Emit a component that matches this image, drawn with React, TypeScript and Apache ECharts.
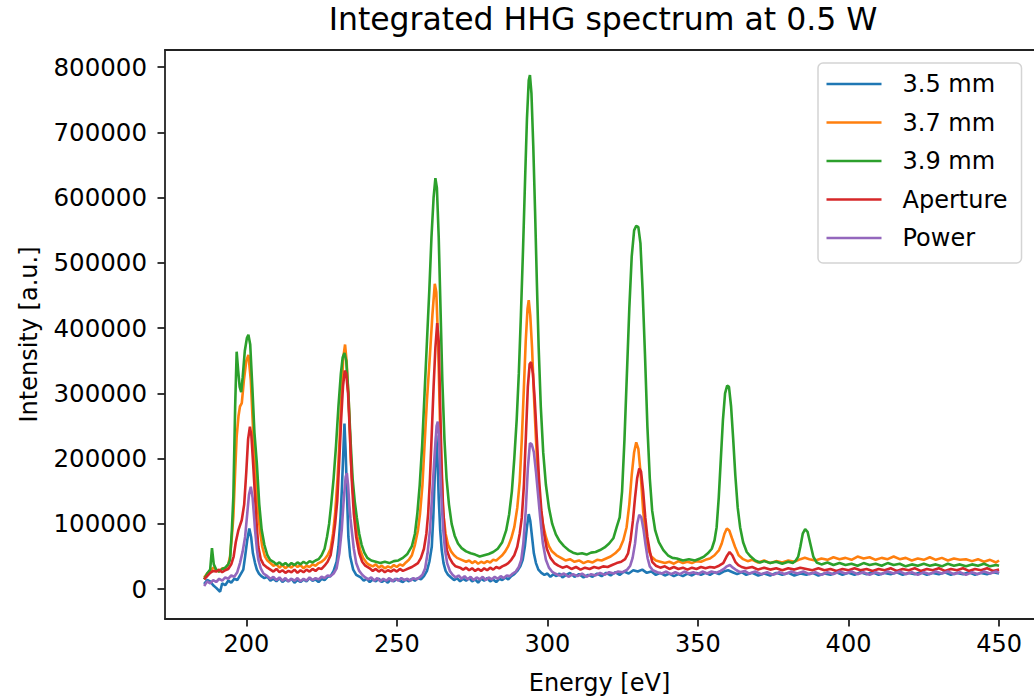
import React, { useEffect, useRef } from "react";
import * as echarts from "echarts";

const TITLE = "Integrated HHG spectrum at 0.5 W";
const X_NAME = "Energy [eV]";
const Y_NAME = "Intensity [a.u.]";
const X_TICKS = [200, 250, 300, 350, 400, 450];
const Y_TICKS = [0, 100000, 200000, 300000, 400000, 500000, 600000, 700000, 800000];
const SERIES_NAMES = ["3.5 mm", "3.7 mm", "3.9 mm", "Aperture", "Power"];
const COLORS = ["#1f77b4", "#ff7f0e", "#2ca02c", "#d62728", "#9467bd"];

const s35: [number, number][] = [
  [186,8000],[187,14000],[188,12000],[189,6000],[190,2000],[191.3,-4000],[192,9000],[193,6000],[194,13000],[195,10000],[196,16000],[197,14000],[198,22000],[199,30000],[199.6,50000],[200.3,75000],[201,93000],[201.6,80000],[202.2,55000],[202.9,40000],[203.5,30000],[204.2,24000],[205,20000],[206,17000],[207,19000],[208,13000],[209,16000],[210,12000],[211,17000],[212,11000],[213,15000],[214,12000],[215,16000],[216,10000],[217,14000],[218,11000],[219,15000],[220,12000],[221,17000],[222,13000],[223,15000],[224,11000],[225,16000],[226,14000],[227,19000],[228,20000],[229,28000],[230,42000],[230.6,65000],[231.3,110000],[231.8,160000],[232.3,220000],[232.6,254000],[233,210000],[233.4,150000],[233.9,80000],[234.5,50000],[235.5,30000],[236.5,22000],[238,18000],[239,13000],[240,16000],[241,11000],[242,15000],[243,12000],[244,16000],[245,11000],[246,14000],[247,10000],[248,15000],[249,12000],[250,16000],[251,13000],[252,11000],[253,15000],[254,12000],[255,16000],[256,13000],[257,17000],[258,15000],[259,20000],[260,28000],[260.8,42000],[261.6,65000],[262.1,110000],[262.6,175000],[263.1,236000],[263.5,200000],[263.9,140000],[264.4,90000],[264.9,60000],[265.5,40000],[266.2,28000],[267,22000],[268,18000],[269,14000],[270,17000],[271,12000],[272,16000],[273,13000],[274,17000],[275,12000],[276,15000],[277,10000],[278,16000],[279,13000],[280,17000],[281,12000],[282,15000],[283,11000],[284,16000],[285,14000],[286,18000],[287,15000],[288,20000],[289,23000],[290,28000],[291,35000],[291.8,45000],[292.5,65000],[293.2,95000],[293.8,115000],[294.3,105000],[294.9,80000],[295.5,55000],[296.2,40000],[297,30000],[298,25000],[299,22000],[300,24000],[301,19000],[302,23000],[303,20000],[304,24000],[305,18000],
  [306,21000],[307.5,25000],[309,19000],[310.5,23000],[312,18000],[313.5,22000],[315,19000],[316.5,24000],[318,20000],[319.5,25000],[321,21000],[322.5,26000],[324,22000],[325.5,27000],[327,24000],[328.5,29000],[330,27000],[331.5,30000],[333,25000],[334.5,27000],[336,22000],[337.5,25000],[339,21000],[340.5,24000],[342,20000],[343.5,23000],[345,20000],[346.5,24000],[348,21000],[349.5,25000],[351,22000],[352.5,25000],[354,22000],[355.5,26000],[357,23000],[358.5,27000],[360,29000],[361.5,26000],[363,23000],[364.5,26000],[366,22000],[368,25000],[370,21000],[372,24000],[374,21000],[376,25000],[378,22000],[380,25000],[382,21000],[384,24000],[386,22000],[388,25000],[390,21000],[392,24000],[394,22000],[396,26000],[398,22000],[400,25000],[402,22000],[404,26000],[406,23000],[408,26000],[410,22000],[412,25000],[414,23000],[416,26000],[418,22000],[420,25000],[422,23000],[424,26000],[426,22000],[428,25000],[430,23000],[432,26000],[434,22000],[436,25000],[438,23000],[440,26000],[442,22000],[444,25000],[446,23000],[448,26000],[450,24000]
];

const s37: [number, number][] = [
  [186,18000],[187,24000],[188,28000],[189,33000],[190,30000],[191,27000],[192,32000],[193,30000],[194,38000],[194.6,50000],[195.2,80000],[195.7,111000],[196.3,180000],[196.8,234000],[197.4,265000],[197.9,280000],[198.5,285000],[199.2,320000],[200,350000],[200.7,359000],[201.5,320000],[202.2,250000],[202.9,193000],[203.7,130000],[204.5,91000],[205.3,65000],[206.2,50000],[207,44000],[208,40000],[209,36000],[210,38000],[211,33000],[212,37000],[213,32000],[214,36000],[215,33000],[216,38000],[217,34000],[218,37000],[219,32000],[220,36000],[221,34000],[222,38000],[223,36000],[224,40000],[225,42000],[226,46000],[227,52000],[228,62000],[228.8,85000],[229.5,116000],[230.3,170000],[231,230000],[231.6,300000],[232.2,355000],[232.8,375000],[233.3,350000],[234,290000],[234.7,200000],[235.4,150000],[236.1,116000],[236.9,80000],[237.8,60000],[238.8,48000],[240,40000],[241,37000],[242,35000],[243,38000],[244,33000],[245,36000],[246,32000],[247,35000],[248,33000],[249,37000],[250,34000],[251,38000],[252,36000],[253,41000],[254,45000],[255,52000],[256,68000],[257,90000],[257.7,116000],[258.5,160000],[259.3,230000],[260,290000],[261,360000],[261.8,420000],[262.6,468000],[263.1,455000],[263.7,380000],[264.3,260000],[264.9,170000],[265.4,116000],[266.2,85000],[267,68000],[268,58000],[269,52000],[270,48000],[271.5,45000],[273,42000],[274,44000],[275,40000],[276,43000],[277,39000],[278,42000],[279,40000],[280,43000],[281,41000],[282,45000],[283,44000],[284,48000],[285,52000],[286,58000],[287,66000],[288,78000],[289,95000],[290,125000],[290.8,165000],[291.5,230000],[292.2,310000],[292.8,380000],[293.4,430000],[293.8,443000],[294.3,420000],[294.9,370000],[295.5,300000],[296.2,230000],[296.9,170000],[297.6,130000],[298.5,100000],[299.5,80000],[300.5,66000],[301.5,58000],[303,52000],[304.5,48000],[306,44000],[307.5,46000],[309,42000],[310.5,44000],[312,40000],[313.5,43000],[315,41000],[316.5,45000],[318,44000],[319.5,47000],[321,50000],[322.5,55000],[324,62000],[325.2,75000],[326.3,95000],[327.2,130000],[328,175000],[328.8,210000],[329.5,225000],[330.2,215000],[331,175000],[331.8,120000],[332.6,86000],[333.4,62000],[334.5,50000],[336,44000],[337.5,42000],[339,40000],[340.5,42000],[342,39000],[343.5,43000],[345,40000],[346.5,42000],[348,40000],[349.5,43000],[351,42000],[352.5,45000],[354,47000],[355.5,52000],[357,60000],[357.9,70000],[358.8,85000],[359.6,93000],[360.4,90000],[361.3,78000],[362.3,65000],[363.5,52000],[365,46000],[366.5,43000],[368,45000],[370,41000],[372,44000],[374,40000],[376,43000],[378,41000],[380,44000],[382,42000],[384,46000],[385.5,48000],[387,46000],[389,44000],[391,47000],[393,45000],[395,49000],[397,46000],[399,48000],[401,45000],[403,50000],[405,47000],[407,49000],[409,45000],[411,48000],[413,46000],[415,50000],[417,46000],[419,48000],[421,44000],[423,47000],[425,45000],[427,49000],[429,45000],[431,48000],[433,44000],[435,47000],[437,45000],[439,46000],[441,43000],[443,46000],[445,42000],[447,45000],[449,41000],[450,44000]
];

const s39: [number, number][] = [
  [186,15000],[187,24000],[188,30000],[188.6,63000],[189.2,38000],[190,30000],[191,27000],[192,31000],[193,33000],[194,38000],[194.6,45000],[195.2,90000],[195.7,142000],[196.3,280000],[196.8,364000],[197.3,335000],[197.8,310000],[198.3,302000],[198.8,325000],[199.5,365000],[200.2,385000],[200.7,390000],[201.3,375000],[202,310000],[202.7,240000],[203.5,193000],[204.3,130000],[205.1,91000],[206,68000],[207,52000],[207.9,45000],[209,42000],[210,38000],[211,41000],[212,37000],[213,40000],[214,36000],[215,40000],[216,37000],[217,41000],[218,38000],[219,42000],[220,39000],[221,43000],[222,41000],[223,44000],[224,46000],[225,52000],[226,62000],[226.8,80000],[227.5,100000],[228.2,130000],[229,170000],[229.8,220000],[230.6,280000],[231.4,330000],[232,355000],[232.6,362000],[233.2,350000],[233.9,300000],[234.6,230000],[235.3,170000],[236,135000],[236.7,110000],[237.5,85000],[238.3,68000],[239.2,56000],[240.2,48000],[241.5,44000],[243,42000],[244.5,40000],[246,42000],[247.5,40000],[249,43000],[250.5,44000],[252,48000],[253.5,54000],[255,66000],[256,85000],[256.8,116000],[257.6,160000],[258.4,220000],[259.2,300000],[260,380000],[260.8,460000],[261.5,540000],[262.2,600000],[262.8,630000],[263.3,615000],[263.9,540000],[264.5,430000],[265.1,320000],[265.8,230000],[266.5,170000],[267.3,130000],[268.2,100000],[269.2,82000],[270.3,70000],[271.5,63000],[273,58000],[274.5,55000],[276,53000],[277.5,50000],[279,52000],[280.5,54000],[282,57000],[283.5,62000],[285,72000],[286.3,90000],[287.3,115000],[288.2,150000],[289,200000],[289.8,260000],[290.5,330000],[291.2,420000],[291.9,520000],[292.6,630000],[293.2,720000],[293.8,780000],[294.2,788000],[294.7,760000],[295.3,680000],[295.9,580000],[296.5,470000],[297.1,370000],[297.8,280000],[298.6,210000],[299.5,160000],[300.5,125000],[301.6,100000],[302.8,84000],[304,74000],[305.5,66000],[307,60000],[308.5,56000],[310,54000],[311.5,55000],[313,53000],[314.5,56000],[316,57000],[317.5,60000],[319,64000],[320.5,70000],[321.9,78000],[323,95000],[324,110000],[324.8,150000],[325.6,230000],[326.4,330000],[327.2,430000],[328,510000],[328.8,550000],[329.5,557000],[330.2,555000],[330.9,530000],[331.6,460000],[332.4,360000],[333.2,250000],[334,170000],[334.8,120000],[335.8,90000],[337,72000],[338.5,60000],[340,52000],[341.5,48000],[343,47000],[345,44000],[347,46000],[349,44000],[350.7,47000],[352,50000],[353.3,55000],[354.6,62000],[355.5,75000],[356.2,95000],[356.9,140000],[357.6,200000],[358.3,260000],[359,300000],[359.7,312000],[360.3,310000],[361,280000],[361.7,230000],[362.4,175000],[363.2,125000],[364,95000],[365,72000],[366.2,57000],[367.5,50000],[369,44000],[370.6,41000],[372,43000],[374,40000],[376,42000],[378,39000],[380,42000],[381.5,40000],[382.5,44000],[383.3,50000],[384,65000],[384.8,85000],[385.6,92000],[386.4,88000],[387.3,70000],[388.3,50000],[389.4,41000],[391,38000],[393,41000],[395,37000],[397,40000],[399,37000],[401,39000],[403,36000],[405,40000],[407,37000],[409,39000],[411,36000],[413,40000],[415,37000],[417,39000],[419,35000],[421,38000],[423,36000],[425,39000],[427,36000],[429,38000],[431,35000],[433,39000],[435,36000],[437,38000],[439,35000],[441,38000],[443,36000],[445,39000],[447,35000],[449,37000],[450,36000]
];

const sAperture: [number, number][] = [
  [186,15000],[187,20000],[188,25000],[189,28000],[190,27000],[191,30000],[192,26000],[193,29000],[194,31000],[195,38000],[195.8,50000],[196.5,72000],[197.4,91000],[198.5,106000],[199.3,130000],[200,180000],[200.6,230000],[201.2,249000],[201.7,235000],[202.3,190000],[202.9,142000],[203.5,95000],[204,65000],[204.8,46000],[205.7,38000],[207,33000],[208,30000],[209,27000],[210,31000],[211,26000],[212,29000],[213,25000],[214,28000],[215,26000],[216,30000],[217,25000],[218,29000],[219,26000],[220,30000],[221,27000],[222,31000],[223,28000],[224,32000],[225,31000],[226,36000],[227,42000],[228,52000],[228.8,75000],[229.5,100000],[230.2,135000],[230.9,200000],[231.5,260000],[232.1,310000],[232.7,335000],[233.2,330000],[233.8,300000],[234.4,240000],[235,170000],[235.7,116000],[236.5,80000],[237.5,55000],[238.5,42000],[239.5,36000],[241,32000],[242,28000],[243,31000],[244,27000],[245,30000],[246,26000],[247,29000],[248,27000],[249,30000],[250,27000],[251,31000],[252,28000],[253,30000],[254,32000],[255,34000],[256,37000],[257,40000],[258,48000],[259,62000],[259.8,85000],[260.4,116000],[261,170000],[261.6,240000],[262.2,310000],[262.8,370000],[263.4,408000],[263.9,380000],[264.3,300000],[264.8,200000],[265.3,130000],[265.9,85000],[266.6,60000],[267.5,48000],[268.5,40000],[269.5,35000],[271,33000],[272,30000],[273,33000],[274,29000],[275,32000],[276,28000],[277,31000],[278,28000],[279,32000],[280,29000],[281,33000],[282,30000],[283,34000],[284,32000],[285,35000],[286,37000],[287,40000],[288,45000],[289,52000],[290,65000],[290.8,85000],[291.5,110000],[292.2,160000],[292.9,240000],[293.5,310000],[294.1,345000],[294.6,348000],[295.2,330000],[295.8,290000],[296.5,230000],[297.2,170000],[298,120000],[298.9,85000],[299.8,62000],[301,48000],[302.3,40000],[303.6,36000],[305,33000],[306.5,35000],[308,31000],[309.5,34000],[311,30000],[312.5,33000],[314,31000],[315.5,34000],[317,32000],[318.5,35000],[320,34000],[321.5,37000],[323,40000],[324.5,42000],[325.8,46000],[326.8,55000],[327.6,75000],[328.4,105000],[329.1,140000],[329.8,170000],[330.5,185000],[331.1,180000],[331.8,150000],[332.5,110000],[333.2,80000],[334,58000],[334.8,42000],[336,36000],[337.5,33000],[339,35000],[340.5,31000],[342,34000],[343.5,31000],[345,33000],[346.5,30000],[348,33000],[349.5,31000],[351,34000],[352.5,32000],[354,34000],[355.5,33000],[357,36000],[358.4,40000],[359.5,50000],[360.5,57000],[361.4,52000],[362.4,42000],[363.4,37000],[364.5,34000],[366,32000],[368,34000],[370,30000],[372,33000],[374,30000],[376,32000],[378,29000],[380,32000],[382,30000],[384,33000],[386,31000],[388,29000],[390,32000],[392,29000],[394,31000],[396,28000],[398,31000],[400,29000],[402,32000],[404,29000],[406,31000],[408,28000],[410,31000],[412,29000],[414,32000],[416,28000],[418,31000],[420,29000],[422,32000],[424,28000],[426,31000],[428,29000],[430,32000],[432,28000],[434,31000],[436,29000],[438,32000],[440,28000],[442,31000],[444,29000],[446,32000],[448,28000],[450,30000]
];

const sPower: [number, number][] = [
  [186,5000],[187,12000],[188,9000],[189,14000],[190,11000],[191,16000],[192,13000],[193,18000],[194,16000],[195,21000],[196,19000],[197,26000],[197.9,40000],[198.8,58000],[199.6,80000],[200.3,115000],[200.9,145000],[201.5,157000],[202.1,140000],[202.6,110000],[202.9,91000],[203.5,62000],[204,45000],[204.8,32000],[205.7,24000],[207,20000],[208,16000],[209,19000],[210,14000],[211,18000],[212,13000],[213,17000],[214,12000],[215,16000],[216,13000],[217,17000],[218,12000],[219,16000],[220,13000],[221,18000],[222,14000],[223,17000],[224,15000],[225,19000],[226,17000],[227,21000],[228,20000],[229,24000],[230,32000],[230.9,55000],[231.7,91000],[232.4,140000],[233,172000],[233.4,178000],[233.8,160000],[234.2,130000],[234.6,108000],[235,91000],[235.7,62000],[236.5,40000],[237.5,28000],[238.5,22000],[239.5,18000],[240.5,15000],[241.5,18000],[242.5,13000],[243.5,17000],[244.5,12000],[245.5,16000],[246.5,13000],[247.5,17000],[248.5,12000],[249.5,16000],[250.5,13000],[251.5,17000],[252.5,14000],[253.5,16000],[254.5,13000],[255.5,17000],[256.5,15000],[257.5,18000],[258.5,22000],[259.4,32000],[260.2,55000],[261,91000],[261.8,150000],[262.6,210000],[263.2,250000],[263.6,257000],[264,235000],[264.4,180000],[264.9,130000],[265.4,91000],[266,60000],[266.7,40000],[267.6,28000],[268.5,22000],[269.5,18000],[270.5,21000],[271.5,16000],[272.5,20000],[273.5,15000],[274.5,19000],[275.5,14000],[276.5,18000],[277.5,15000],[278.5,19000],[279.5,14000],[280.5,18000],[281.5,15000],[282.5,19000],[283.5,16000],[284.5,20000],[285.5,17000],[286.5,21000],[287.5,20000],[288.5,24000],[289.5,27000],[290.5,34000],[291.3,45000],[292,70000],[292.8,120000],[293.5,185000],[294.2,224000],[294.8,222000],[295.5,210000],[296.2,180000],[296.8,150000],[297.6,110000],[298.5,70000],[299.5,45000],[300.5,33000],[301.5,27000],[302.5,24000],[304,21000],[305.5,24000],[307,19000],[308.5,23000],[310,20000],[311.5,24000],[313,19000],[314.5,23000],[316,21000],[317.5,25000],[319,22000],[320.5,26000],[322,24000],[323.5,27000],[325,26000],[326.5,30000],[327.5,36000],[328.3,48000],[329.1,70000],[329.8,100000],[330.5,114000],[331.2,110000],[331.9,92000],[332.6,68000],[333.3,47000],[334,35000],[335,29000],[336.5,26000],[338,24000],[339.5,27000],[341,23000],[342.5,26000],[344,23000],[345.5,27000],[347,24000],[348.5,26000],[350,23000],[351.5,27000],[353,24000],[354.5,27000],[356,25000],[357.5,28000],[358.6,31000],[359.6,35000],[360.6,37000],[361.6,33000],[362.8,29000],[364,26000],[365.5,28000],[367,24000],[369,27000],[371,23000],[373,26000],[375,22000],[377,26000],[379,23000],[381,27000],[383,24000],[385,27000],[387,23000],[389,26000],[391,22000],[393,26000],[395,23000],[397,27000],[399,24000],[401,27000],[403,23000],[405,26000],[407,22000],[409,26000],[411,23000],[413,27000],[415,24000],[417,27000],[419,23000],[421,26000],[423,22000],[425,26000],[427,23000],[429,27000],[431,24000],[433,27000],[435,23000],[437,26000],[439,22000],[441,26000],[443,23000],[445,27000],[447,24000],[449,27000],[450,25000]
];

const SERIES_DATA = [s35, s37, s39, sAperture, sPower];

const FONT = "DejaVu Sans";

export default function App() {
  const ref = useRef<HTMLDivElement>(null);
  useEffect(() => {
    if (!ref.current) return;
    const chart = echarts.init(ref.current, null, { renderer: "svg" });
    const axisLineStyle = { color: "#222", width: 1.8 };
    chart.setOption({
      animation: false,
      backgroundColor: "#fff",
      title: {
        text: TITLE,
        left: 603,
        top: 3,
        padding: 0,
        textAlign: "center",
        textStyle: { fontFamily: FONT, fontSize: 31.5, fontWeight: "normal", color: "#000" },
      },
      legend: {
        orient: "vertical",
        left: 818,
        top: 63,
        padding: [8, 14, 12, 8.5],
        itemWidth: 55,
        itemHeight: 2.5,
        itemGap: 12.5,
        icon: "rect",
        backgroundColor: "#fff",
        borderColor: "#d4d4d4",
        borderWidth: 1.5,
        borderRadius: 5,
        textStyle: { fontFamily: FONT, fontSize: 24, color: "#000", lineHeight: 26, padding: [0, 0, 0, 16] },
        data: SERIES_NAMES,
      },
      grid: { left: 165, right: 0, top: 50, bottom: 81, containLabel: false },
      xAxis: [
        {
          type: "value",
          min: 173.0,
          max: 461.6,
          name: X_NAME,
          nameLocation: "middle",
          nameGap: 52,
          nameTextStyle: { fontFamily: FONT, fontSize: 24, color: "#000" },
          axisLine: { show: true, onZero: false, lineStyle: axisLineStyle },
          axisTick: { show: true, length: 7.5, lineStyle: axisLineStyle, customValues: X_TICKS },
          axisLabel: { fontFamily: FONT, fontSize: 24, color: "#000", margin: 13, customValues: X_TICKS },
          splitLine: { show: false },
        },
        {
          type: "value",
          position: "top",
          min: 173.0,
          max: 461.6,
          axisLine: { show: true, onZero: false, lineStyle: axisLineStyle },
          axisTick: { show: false },
          axisLabel: { show: false },
          splitLine: { show: false },
        },
      ],
      yAxis: {
        type: "value",
        min: -45700,
        max: 826400,
        name: Y_NAME,
        nameLocation: "middle",
        nameGap: 124,
        nameTextStyle: { fontFamily: FONT, fontSize: 24, color: "#000" },
        axisLine: { show: true, onZero: false, lineStyle: axisLineStyle },
        axisTick: { show: true, length: 7.5, lineStyle: axisLineStyle, customValues: Y_TICKS },
        axisLabel: {
          fontFamily: FONT,
          fontSize: 24.5,
          color: "#000",
          margin: 18,
          customValues: Y_TICKS,
          formatter: (v: number) => String(Math.round(v)),
        },
        splitLine: { show: false },
      },
      series: SERIES_NAMES.map((name, i) => ({
        name,
        type: "line",
        xAxisIndex: 0,
        data: SERIES_DATA[i],
        showSymbol: false,
        symbol: "none",
        color: COLORS[i],
        lineStyle: { color: COLORS[i], width: 2.6 },
        z: 2 + i,
      })),
    });
    return () => chart.dispose();
  }, []);
  return (
    <div
      ref={ref}
      style={{ position: "absolute", left: 0, top: 0, width: 1034, height: 700, background: "#fff" }}
    />
  );
}
